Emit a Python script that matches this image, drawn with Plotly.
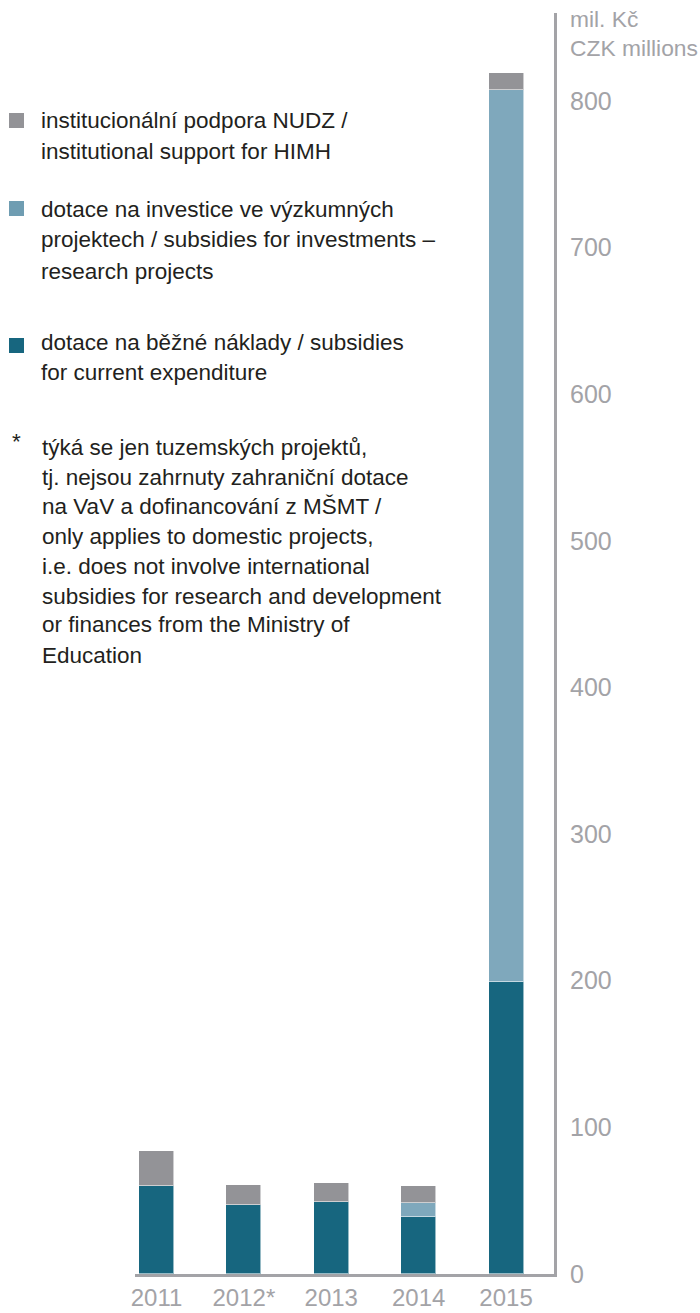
import plotly.graph_objects as go

# Funding by year, CZK millions
years = ["2011", "2012*", "2013", "2014", "2015"]
current_expenditure = [60.2, 47.1, 48.9, 38.7, 199.0]
research_investments = [0, 0, 0, 9.7, 608.6]
institutional_support = [23.5, 13.4, 13.2, 11.4, 11.8]

series_names = [
    "dotace na běžné náklady / subsidies for current expenditure",
    "dotace na investice ve výzkumných projektech / subsidies for investments – research projects",
    "institucionální podpora NUDZ / institutional support for HIMH",
]
legend_lines = [
    ["institucionální podpora NUDZ /", "institutional support for HIMH"],
    ["dotace na investice ve výzkumných", "projektech / subsidies for investments –", "research projects"],
    ["dotace na běžné náklady / subsidies", "for current expenditure"],
]
footnote_lines = [
    "týká se jen tuzemských projektů,",
    "tj. nejsou zahrnuty zahraniční dotace",
    "na VaV a dofinancování z MŠMT /",
    "only applies to domestic projects,",
    "i.e. does not involve international",
    "subsidies for research and development",
    "or finances from the Ministry of",
    "Education",
]
y_ticks = [0, 100, 200, 300, 400, 500, 600, 700, 800]

DARK = "#17667f"
LIGHT = "#7fa8bc"
GREY = "#939397"
AXIS_GREY = "#a3a3a7"
TEXT = "#231f20"
FONT = "Liberation Sans"
TEXT_SIZE = 22.5

W, H = 700, 1313


def px(x):
    return x / W


def py(y):
    return (H - y) / H


fig = go.Figure()
for vals, color, name in [
    (current_expenditure, DARK, series_names[0]),
    (research_investments, LIGHT, series_names[1]),
    (institutional_support, GREY, series_names[2]),
]:
    fig.add_trace(go.Bar(
        x=years, y=vals, name=name, width=0.4,
        marker=dict(color=color, line=dict(color="rgba(255,255,255,0.55)", width=1)),
        showlegend=False,
    ))

annotations = []
shapes = []

# legend blocks: square + text lines
legend_colors = [GREY, "#6f9db2", DARK]
legend_square_y = [120.5, 208.5, 345.5]
legend_line_y = [[121, 151], [210, 240, 271], [342, 372]]
for color, sy, lines, ys in zip(legend_colors, legend_square_y, legend_lines, legend_line_y):
    shapes.append(dict(type="rect", xref="paper", yref="paper",
                       x0=px(9), x1=px(24), y0=py(sy - 7.5), y1=py(sy + 7.5),
                       fillcolor=color, line=dict(width=0)))
    for t, yy in zip(lines, ys):
        annotations.append(dict(text=t, x=px(39), y=py(yy), xref="paper", yref="paper",
                                xanchor="left", yanchor="middle", showarrow=False,
                                font=dict(family=FONT, size=TEXT_SIZE, color=TEXT)))

annotations.append(dict(text="*", x=px(10), y=py(441), xref="paper", yref="paper",
                        xanchor="left", yanchor="middle", showarrow=False,
                        font=dict(family=FONT, size=TEXT_SIZE, color=TEXT)))
foot_y = [447, 477, 506, 536, 566, 596, 625, 655]
for t, yy in zip(footnote_lines, foot_y):
    annotations.append(dict(text=t, x=px(40), y=py(yy), xref="paper", yref="paper",
                            xanchor="left", yanchor="middle", showarrow=False,
                            font=dict(family=FONT, size=TEXT_SIZE, color=TEXT)))

# unit label above the value axis
for t, yy in [("mil. Kč", 19), ("CZK millions", 48)]:
    annotations.append(dict(text=t, x=px(568), y=py(yy), xref="paper", yref="paper",
                            xanchor="left", yanchor="middle", showarrow=False,
                            font=dict(family=FONT, size=22.8, color=AXIS_GREY)))

fig.update_layout(
    width=W, height=H,
    barmode="stack",
    bargap=0,
    margin=dict(l=0, r=0, t=0, b=0),
    paper_bgcolor="white",
    plot_bgcolor="white",
    annotations=annotations,
    shapes=shapes,
    xaxis=dict(
        domain=[px(135), px(554)],
        type="category",
        range=[-0.246, 4.549],
        automargin=False,
        showgrid=False, zeroline=False,
        showline=True, linecolor=AXIS_GREY, linewidth=3,
        ticks="", ticklabelstandoff=0,
        tickfont=dict(family=FONT, size=24, color=AXIS_GREY),
    ),
    yaxis=dict(
        domain=[py(1274), py(13)],
        range=[0, 860],
        side="right",
        tickvals=y_ticks,
        automargin=False,
        showgrid=False, zeroline=False,
        showline=True, linecolor=AXIS_GREY, linewidth=3,
        ticks="", ticklabelstandoff=8,
        tickfont=dict(family=FONT, size=25, color=AXIS_GREY),
    ),
)

fig.write_html("out.html")
